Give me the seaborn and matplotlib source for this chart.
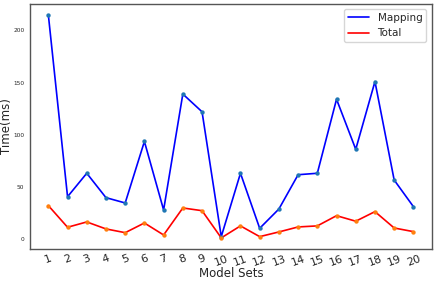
import matplotlib
matplotlib.use("Agg")
import matplotlib.pyplot as plt
import seaborn as sns
import pandas as pd

model_sets = list(range(1, 21))
mapping = [215, 40.5, 63, 39.6, 34.5, 93.5, 27.8, 139, 122, 2.2,
           63, 10.2, 28.7, 61.6, 63, 134, 86, 151, 56.5, 31]
total = [32, 11.2, 16.3, 9.6, 6, 15.3, 3.8, 29.7, 27.1, 1,
         12.5, 2.2, 6.7, 11.5, 12.5, 22.3, 17, 26.2, 10.5, 7]

df = pd.DataFrame({"x": model_sets, "Mapping": mapping, "Total": total})

sns.set_style("white")
plt.rcParams['font.family'] = ['DejaVu Sans']

fig = plt.figure(figsize=(4.36, 2.83), dpi=100)
ax = fig.add_axes([0.069, 0.12, 0.921, 0.867])

sns.lineplot(data=df, x="x", y="Mapping", color="blue", linewidth=1.2, ax=ax, label="Mapping")
sns.scatterplot(data=df, x="x", y="Mapping", color="tab:blue", s=10, linewidth=0, ax=ax, zorder=3)
sns.lineplot(data=df, x="x", y="Total", color="red", linewidth=1.2, ax=ax, label="Total")
sns.scatterplot(data=df, x="x", y="Total", color="tab:orange", s=10, linewidth=0, ax=ax, zorder=3)

ax.set_xticks(model_sets)
ax.set_xticklabels([str(v) for v in model_sets], rotation=20, fontsize=8)
ax.set_yticks([0, 50, 100, 150, 200])
ax.tick_params(axis='y', labelsize=4.2, length=0, pad=4)
ax.tick_params(axis='x', length=0, pad=3)
ax.set_xlabel("Model Sets", fontsize=8.5)
ax.set_ylabel("Time(ms)", fontsize=8.5)
ax.yaxis.set_label_coords(-0.042, 0.5)
ax.xaxis.set_label_coords(0.5, -0.072)
for s in ax.spines.values():
    s.set_color("#555555")
    s.set_linewidth(1.0)
ax.legend(loc="upper right", fontsize=7.5, frameon=True, handlelength=2.0)
fig.savefig("out.png", dpi=100)
